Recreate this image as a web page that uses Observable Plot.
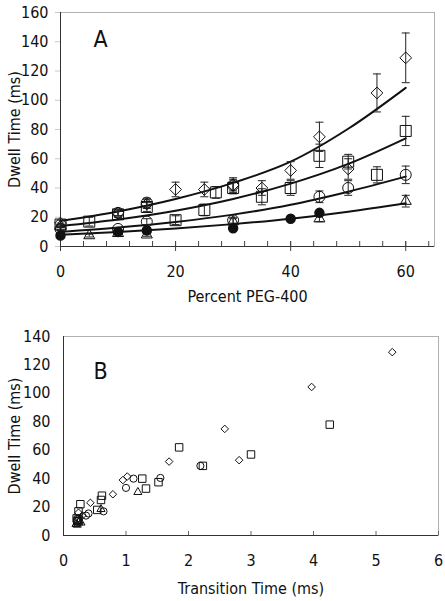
<!DOCTYPE html>
<html><head><meta charset="utf-8">
<script src="https://cdn.jsdelivr.net/npm/d3@7"></script>
<script src="https://cdn.jsdelivr.net/npm/@observablehq/plot@0.6"></script>
<style>
body{margin:0;background:#fff;}
#chart{width:445px;}
#chart svg{display:block;}
</style></head><body><div id="chart"></div>
<script>
// ---------- Panel A: Dwell time vs percent PEG-400 ----------
const diamondX = [0,10,15,20,25,30,35,40,45,50,55,60];
const diamondY = [16,23,29,39,39,42,40,52,75,53,105,129];
const diamondE = [2,2,3,5,5,5,5,6,10,7,13,17];

const squareX = [0,5,10,15,20,25,27,30,35,40,45,50,55,60];
const squareY = [15,17,22,27,18,25,37,40,34,40,62,58,49,79];
const squareE = [1,3,2,3,3,4,4,4,5.5,5,8,5,5.5,10];

const circleX = [0,10,10,15,15,30,30,45,50,60];
const circleY = [12,12,23,17,30,18,42,34,40,49];
const circleE = [1,1,2,2,3,2,4,4,5,6];

const triangleX = [0,5,10,15,30,45,60];
const triangleY = [14,7.5,9,8,17,19,31];
const triangleE = [1,1,1,1,2,2,4];

const filledX = [0,10,15,30,40,45];
const filledY = [7.5,10,11,12.5,19,23];
const filledE = [1,1,1,1,1,1];

// fitted curves
const fitX = [0,10,20,30,40,50,60];
const fitTop = [17.5,24,32.5,43.5,58,80.5,108.5];
const fitSecond = [14,18.5,24.5,32.5,43,56.5,74];
const fitThird = [10,13,16.8,21.8,28.5,37.5,47.8];
const fitBottom = [8,9.9,12.3,15.3,19,23.8,29.6];

const pegTicks = [0,20,40,60];
const pegMinor = [0,4,8,12,16,20,24,28,32,36,40,44,48,52,56,60,64];
const dwellTicksA = [0,20,40,60,80,100,120,140,160];

// ---------- Panel B: Dwell time vs transition time ----------
const bDiamondX = [5.26,3.97,2.58,2.81,1.69,1.02,0.95,0.79,0.43,0.30,0.24];
const bDiamondY = [129,104.5,75,53,52,41.5,39,29,23,14,16];
const bSquareX = [4.26,3.0,1.85,2.23,1.52,1.32,1.26,0.615,0.6,0.27,0.54,0.24,0.21,0.22,0.23];
const bSquareY = [78,57,62,49,37.5,33,40,28,25,22,18,17,12,10,11];
const bCircleX = [2.19,1.55,1.12,1.0,0.64,0.40,0.36,0.25,0.22];
const bCircleY = [49,40.5,40,33.5,17,15.5,14,12,10];
const bTriangleX = [1.19,0.6,0.25,0.2,0.28,0.22,0.24];
const bTriangleY = [30.5,18.5,10,8,9,7.5,9];

const transTicks = [0,1,2,3,4,5,6];
const dwellTicksB = [0,20,40,60,80,100,120,140];

// ---------- helpers ----------
const rows = (xs, ys, es) => xs.map((x, i) => ({x, y: ys[i], e: es ? es[i] : 0}));
const capSymbol = {draw(ctx, size) { const w = Math.sqrt(size / Math.PI); ctx.moveTo(-w, 0); ctx.lineTo(w, 0); }};
const FONT = "'DejaVu Sans Condensed', 'DejaVu Sans', sans-serif";
const ink = "#111";
const intFmt = d3.format("d");

const aDiamond = rows(diamondX, diamondY, diamondE);
const aSquare = rows(squareX, squareY, squareE);
const aCircle = rows(circleX, circleY, circleE);
const aTriangle = rows(triangleX, triangleY, triangleE);
const aFilled = rows(filledX, filledY, filledE);
const aAll = [...aDiamond, ...aSquare, ...aCircle, ...aTriangle, ...aFilled];
const fits = [fitTop, fitSecond, fitThird, fitBottom].flatMap((ys, k) => fitX.map((x, i) => ({x, y: ys[i], k})));

const A = {w: 445, h: 310, ml: 60, mr: 11, mt: 12, mb: 64};
const innerA = A.h - A.mt - A.mb;

const plotA = Plot.plot({
  width: A.w, height: A.h,
  marginLeft: A.ml, marginRight: A.mr, marginTop: A.mt, marginBottom: A.mb,
  style: {fontFamily: FONT, fontSize: "16px", background: "white", color: ink},
  x: {domain: [0, 65]},
  y: {domain: [0, 160]},
  marks: [
    Plot.frame({stroke: "#b0b0b0"}),
    Plot.axisY({ticks: dwellTicksA, tickSize: 5, tickPadding: 7, stroke: "#c8c8c8", label: null, fontSize: 16, tickFormat: intFmt}),
    Plot.axisX({ticks: pegTicks, tickSize: 0, tickPadding: 19, label: null, fontSize: 16, tickFormat: intFmt}),
    Plot.ruleX(pegMinor, {x: d => d, insetTop: innerA - 5, stroke: "#444"}),
    Plot.ruleX(pegTicks, {x: d => d, insetTop: innerA - 5, insetBottom: -5, stroke: "#444"}),
    Plot.ruleX([0], {stroke: "#333"}),
    Plot.ruleY([0], {stroke: "#333"}),
    Plot.line(fits, {x: "x", y: "y", z: "k", curve: "monotone-x", stroke: ink, strokeWidth: 2}),
    Plot.ruleX(aAll, {x: "x", y1: d => d.y - d.e, y2: d => d.y + d.e, stroke: "#222", strokeWidth: 1}),
    Plot.dot(aAll, {x: "x", y: d => d.y - d.e, symbol: capSymbol, r: 4, stroke: "#222", strokeWidth: 1}),
    Plot.dot(aAll, {x: "x", y: d => d.y + d.e, symbol: capSymbol, r: 4, stroke: "#222", strokeWidth: 1}),
    Plot.dot(aDiamond, {x: "x", y: "y", symbol: "diamond2", r: 5.3, stroke: ink, fill: "none", strokeWidth: 1}),
    Plot.dot(aSquare, {x: "x", y: "y", symbol: "square", r: 6.2, stroke: ink, fill: "none", strokeWidth: 1}),
    Plot.dot(aCircle, {x: "x", y: "y", symbol: "circle", r: 5.5, stroke: ink, fill: "none", strokeWidth: 1}),
    Plot.dot(aTriangle, {x: "x", y: "y", symbol: "triangle", r: 4.1, stroke: ink, fill: "none", strokeWidth: 1}),
    Plot.dot(aFilled, {x: "x", y: "y", symbol: "circle", r: 4.5, fill: ink, stroke: ink}),
    Plot.text(["A"], {frameAnchor: "top-left", text: d => d, dx: 33, dy: 18, fontSize: 23, textAnchor: "start"}),
    Plot.text(["Percent PEG-400"], {frameAnchor: "bottom", text: d => d, dy: 50, fontSize: 16, textAnchor: "middle", lineAnchor: "middle"}),
    Plot.text(["Dwell Time (ms)"], {frameAnchor: "left", text: d => d, dx: -46, rotate: -90, fontSize: 16, textAnchor: "middle", lineAnchor: "middle"})
  ]
});

const bDiamond = rows(bDiamondX, bDiamondY);
const bSquare = rows(bSquareX, bSquareY);
const bCircle = rows(bCircleX, bCircleY);
const bTriangle = rows(bTriangleX, bTriangleY);

const B = {w: 445, h: 291, ml: 63, mr: 7, mt: 26, mb: 66};
const innerB = B.h - B.mt - B.mb;

const plotB = Plot.plot({
  width: B.w, height: B.h,
  marginLeft: B.ml, marginRight: B.mr, marginTop: B.mt, marginBottom: B.mb,
  style: {fontFamily: FONT, fontSize: "16px", background: "white", color: ink},
  x: {domain: [0, 6]},
  y: {domain: [0, 140]},
  marks: [
    Plot.frame({stroke: "#b0b0b0"}),
    Plot.axisY({ticks: dwellTicksB, tickSize: 0, tickPadding: 13, label: null, fontSize: 16, tickFormat: intFmt}),
    Plot.axisX({ticks: transTicks, tickSize: 0, tickPadding: 19, label: null, fontSize: 16, tickFormat: intFmt}),
    Plot.ruleX(transTicks, {x: d => d, insetTop: innerB - 4, stroke: "#666"}),
    Plot.ruleX([0], {stroke: "#333"}),
    Plot.ruleY([0], {stroke: "#333"}),
    Plot.dot(bDiamond, {x: "x", y: "y", symbol: "diamond2", r: 3.4, stroke: ink, fill: "none", strokeWidth: 1}),
    Plot.dot(bSquare, {x: "x", y: "y", symbol: "square", r: 4.2, stroke: ink, fill: "none", strokeWidth: 1}),
    Plot.dot(bCircle, {x: "x", y: "y", symbol: "circle", r: 3.6, stroke: ink, fill: "none", strokeWidth: 1}),
    Plot.dot(bTriangle, {x: "x", y: "y", symbol: "triangle", r: 3.0, stroke: ink, fill: "none", strokeWidth: 1}),
    Plot.text(["B"], {frameAnchor: "top-left", text: d => d, dx: 30, dy: 26, fontSize: 23, textAnchor: "start"}),
    Plot.text(["Transition Time (ms)"], {frameAnchor: "bottom", text: d => d, dy: 53, fontSize: 16, textAnchor: "middle", lineAnchor: "middle"}),
    Plot.text(["Dwell Time (ms)"], {frameAnchor: "left", text: d => d, dx: -49, rotate: -90, fontSize: 16, textAnchor: "middle", lineAnchor: "middle"})
  ]
});

document.getElementById("chart").append(plotA, plotB);
</script>
</body></html>
